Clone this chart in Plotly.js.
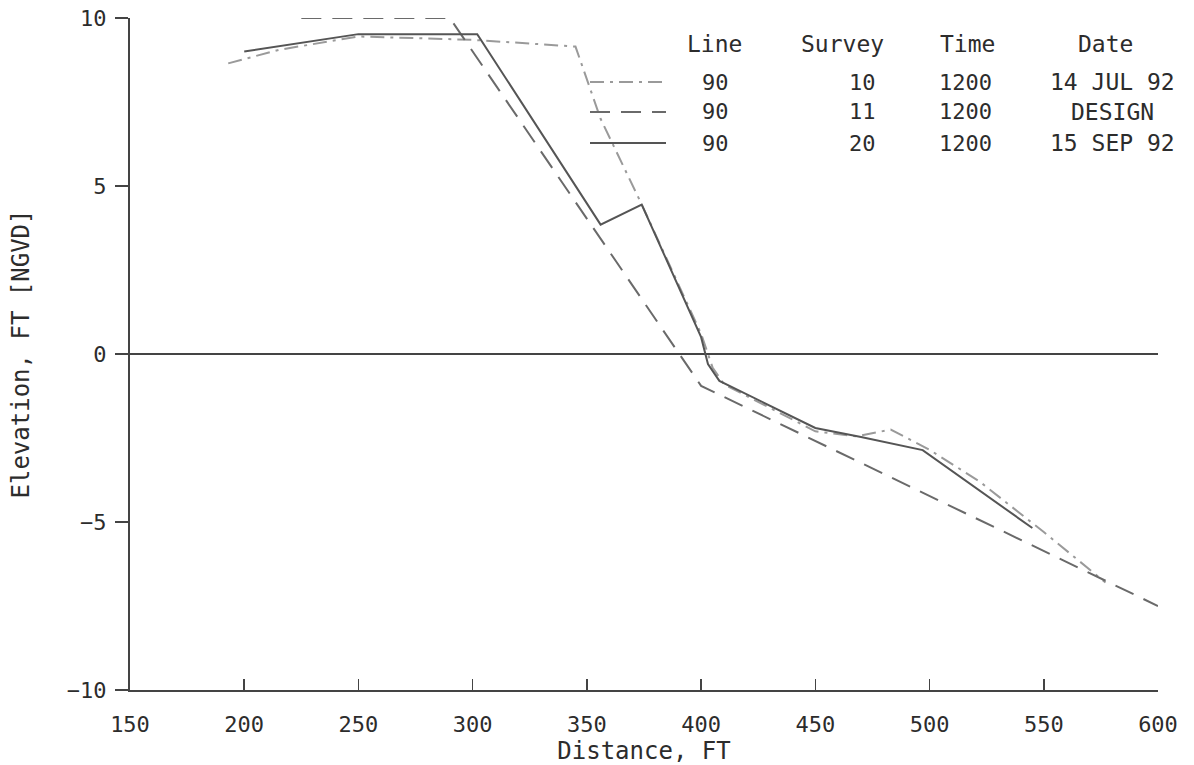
<!DOCTYPE html>
<html>
<head>
<meta charset="utf-8">
<script src="https://cdn.plot.ly/plotly-3.0.1.min.js"></script>
<style>
  html, body { margin: 0; padding: 0; background: #ffffff; }
  #chart { width: 1194px; height: 765px; }
</style>
</head>
<body>
<div id="chart"></div>
<script>
// Beach profile, line 90: distance offshore (ft) vs elevation (ft NGVD)

// Survey 10 — 14 JUL 92
const distSurvey10 = [193, 215, 250, 300, 345, 356, 374, 400, 405, 410, 450, 468, 483, 500, 522, 550, 577];
const elevSurvey10 = [8.65, 9.05, 9.45, 9.35, 9.15, 7.0, 4.45, 0.6, -0.4, -0.9, -2.3, -2.45, -2.25, -2.85, -3.8, -5.3, -6.8];

// Survey 11 — DESIGN template
const distSurvey11 = [225, 290, 400, 600];
const elevSurvey11 = [10, 10, -0.95, -7.5];

// Survey 20 — 15 SEP 92
const distSurvey20 = [200, 250, 302, 356, 374, 400, 403, 408, 450, 470, 497, 545];
const elevSurvey20 = [9.0, 9.52, 9.52, 3.85, 4.45, 0.5, -0.3, -0.8, -2.2, -2.47, -2.86, -5.18];

// Legend table
const legendHeaders = ["Line", "Survey", "Time", "Date"];
const legendLine   = ["90", "90", "90"];
const legendSurvey = ["10", "11", "20"];
const legendTime   = ["1200", "1200", "1200"];
const legendDate   = ["14 JUL 92", "DESIGN", "15 SEP 92"];

const xTicks = [150, 200, 250, 300, 350, 400, 450, 500, 550, 600];
const yTicks = [-10, -5, 0, 5, 10];

const FONT = "DejaVu Sans Mono, Liberation Mono, monospace";
const INK = "#2c2c2c";

const styles = [
  { color: "#9a9a9a", width: 2, dash: "14px,6px,3px,6px" },
  { color: "#6a6a6a", width: 2, dash: "20px,11px" },
  { color: "#555555", width: 2, dash: "solid" }
];

const traces = [
  { x: distSurvey10, y: elevSurvey10, mode: "lines", line: styles[0], hoverinfo: "x+y" },
  { x: distSurvey11, y: elevSurvey11, mode: "lines", line: styles[1], hoverinfo: "x+y" },
  { x: distSurvey20, y: elevSurvey20, mode: "lines", line: styles[2], hoverinfo: "x+y" }
];

// plot-area geometry (px) used to place the legend table in paper units
const L = 130, R = 36, T = 18, B = 75, W = 1194, H = 765;
const pw = W - L - R, ph = H - T - B;
const px2x = p => (p - L) / pw;
const py2y = p => (H - B - p) / ph;

const rowsY = [82, 112, 143];
const annotations = [];
const headerX = [714, 842, 967, 1105];
legendHeaders.forEach((h, i) => annotations.push({
  xref: "paper", yref: "paper", x: px2x(headerX[i]), y: py2y(44),
  text: h, showarrow: false, xanchor: "center", yanchor: "middle",
  font: { family: FONT, size: 23, color: INK }
}));
const cols = [
  { vals: legendLine, x: 715, size: 22 },
  { vals: legendSurvey, x: 862, size: 22 },
  { vals: legendTime, x: 965, size: 22 },
  { vals: legendDate, x: 1112, size: 23 }
];
cols.forEach(c => c.vals.forEach((v, r) => annotations.push({
  xref: "paper", yref: "paper", x: px2x(c.x), y: py2y(rowsY[r]),
  text: v, showarrow: false, xanchor: "center", yanchor: "middle",
  font: { family: FONT, size: c.size, color: INK }
})));

const shapes = styles.map((s, r) => ({
  type: "line", xref: "paper", yref: "paper",
  x0: px2x(590), x1: px2x(666), y0: py2y(rowsY[r]), y1: py2y(rowsY[r]),
  line: { color: s.color, width: s.width, dash: s.dash }
}));

const layout = {
  width: W, height: H,
  margin: { l: L, r: R, t: T, b: B, pad: 0 },
  paper_bgcolor: "#ffffff", plot_bgcolor: "#ffffff",
  showlegend: false,
  font: { family: FONT, color: INK },
  xaxis: {
    range: [150, 600], tickvals: xTicks, ticktext: xTicks.map(String),
    showgrid: false, zeroline: false,
    showline: true, linecolor: "#444", linewidth: 2,
    ticks: "inside", ticklen: 11, tickwidth: 1.5, tickcolor: "#444",
    ticklabelstandoff: 14,
    tickfont: { family: FONT, size: 22, color: INK },
    title: { text: "Distance, FT", font: { family: FONT, size: 24, color: INK }, standoff: 2 }
  },
  yaxis: {
    range: [-10, 10], tickvals: yTicks, ticktext: ["\u221210", "\u22125", "0", "5", "10"],
    showgrid: false,
    zeroline: true, zerolinecolor: "#444", zerolinewidth: 2,
    showline: true, linecolor: "#444", linewidth: 2,
    ticks: "outside", ticklen: 13, tickwidth: 1.5, tickcolor: "#444",
    ticklabelstandoff: 4,
    tickfont: { family: FONT, size: 22, color: INK },
    title: { text: "Elevation, FT [NGVD]", font: { family: FONT, size: 24, color: INK }, standoff: 30 }
  },
  annotations: annotations,
  shapes: shapes
};

Plotly.newPlot("chart", traces, layout, { displayModeBar: false, staticPlot: true });
</script>
</body>
</html>
